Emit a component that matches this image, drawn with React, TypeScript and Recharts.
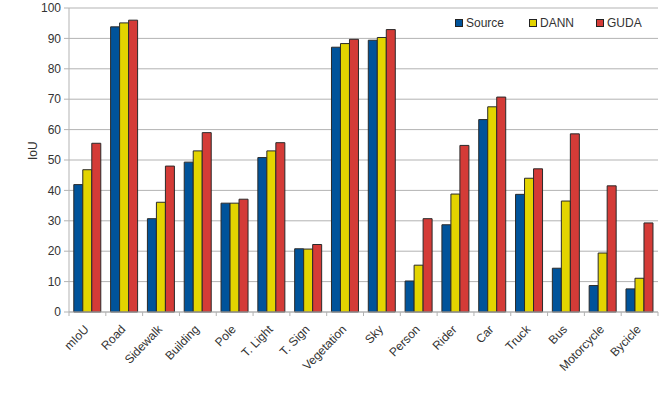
import React from 'react';
import { BarChart, Bar, XAxis, YAxis, CartesianGrid, Legend } from 'recharts';

const categories = ['mIoU', 'Road', 'Sidewalk', 'Building', 'Pole', 'T. Light', 'T. Sign', 'Vegetation', 'Sky', 'Person', 'Rider', 'Car', 'Truck', 'Bus', 'Motorcycle', 'Bycicle'];
const source = [41.9, 93.8, 30.7, 49.3, 35.8, 50.8, 20.8, 87.1, 89.4, 10.2, 28.7, 63.3, 38.7, 14.4, 8.7, 7.6];
const dann = [46.8, 95.1, 36.1, 53.0, 35.8, 53.0, 20.7, 88.3, 90.3, 15.4, 38.8, 67.5, 44.0, 36.5, 19.4, 11.1];
const guda = [55.5, 96.0, 48.0, 59.0, 37.1, 55.7, 22.2, 89.7, 92.9, 30.7, 54.8, 70.7, 47.1, 58.6, 41.5, 29.3];
const yTicks = [0, 10, 20, 30, 40, 50, 60, 70, 80, 90, 100];

const series = [
  { key: 'Source', values: source, color: '#00539a', legendLeft: 0 },
  { key: 'DANN', values: dann, color: '#e3d400', legendLeft: 74 },
  { key: 'GUDA', values: guda, color: '#d43b37', legendLeft: 141 },
];

const data = categories.map((name, i) => ({
  name,
  Source: source[i],
  DANN: dann[i],
  GUDA: guda[i],
}));

const W = 672;
const H = 393;
const margin = { top: 8, right: 14, left: 0, bottom: 0 };
const yAxisWidth = 69;
const font = '"Liberation Sans", Arial, sans-serif';
const gridColor = '#b3b3b3';

// half of one category band, used to put tick marks on the boundaries
const halfBand = (W - margin.left - margin.right - yAxisWidth) / categories.length / 2;

const CategoryTick = (props: any) => {
  const { x, y, payload, index } = props;
  const ax = x + 2;
  const ay = y + 18;
  return (
    <g>
      <line x1={x - halfBand} y1={y} x2={x - halfBand} y2={y + 4} stroke={gridColor} />
      {index === categories.length - 1 && (
        <line x1={x + halfBand} y1={y} x2={x + halfBand} y2={y + 4} stroke={gridColor} />
      )}
      <text
        x={ax}
        y={ay}
        textAnchor="end"
        fontSize={12}
        fontFamily={font}
        fill="#333"
        transform={`rotate(-46, ${ax}, ${ay})`}
      >
        {payload.value}
      </text>
    </g>
  );
};

const LegendBox = () => (
  <div style={{ position: 'relative', width: 210, height: 14, fontFamily: font, fontSize: 12, color: '#333', lineHeight: '14px' }}>
    {series.map((s) => (
      <div
        key={s.key}
        style={{ position: 'absolute', left: s.legendLeft, top: 0, display: 'flex', alignItems: 'center', whiteSpace: 'nowrap' }}
      >
        <span
          style={{
            display: 'inline-block',
            width: 6,
            height: 6,
            background: s.color,
            border: '1px solid #222',
            marginRight: 3,
          }}
        />
        <span>{s.key}</span>
      </div>
    ))}
  </div>
);

export default function App() {
  return (
    <div style={{ position: 'absolute', left: 0, top: 0, width: W, height: H, background: '#fff' }}>
      <BarChart
        width={W}
        height={H}
        data={data}
        margin={margin}
        barCategoryGap="13%"
        barGap={0}
      >
        <CartesianGrid vertical={false} stroke={gridColor} strokeWidth={1} />
        <XAxis
          dataKey="name"
          interval={0}
          height={81}
          tickLine={false}
          tickSize={0}
          tickMargin={0}
          axisLine={{ stroke: gridColor }}
          tick={<CategoryTick />}
        />
        <YAxis
          domain={[0, 100]}
          ticks={yTicks}
          width={yAxisWidth}
          axisLine={{ stroke: gridColor }}
          tickLine={{ stroke: gridColor }}
          tickSize={5}
          tickMargin={3}
          tick={{ fontSize: 12, fontFamily: font, fill: '#333' }}
          label={{ value: 'IoU', angle: -90, position: 'insideLeft', offset: 33, fontSize: 12, fontFamily: font, fill: '#333' }}
        />
        <YAxis
          yAxisId="frame"
          orientation="right"
          width={0}
          tick={false}
          tickLine={false}
          axisLine={{ stroke: gridColor }}
        />
        <Legend
          layout="horizontal"
          verticalAlign="middle"
          align="center"
          wrapperStyle={{ top: 16, left: 455, width: 210 }}
          content={<LegendBox />}
        />
        {series.map((s) => (
          <Bar
            key={s.key}
            dataKey={s.key}
            fill={s.color}
            stroke="#2a2a2a"
            strokeWidth={1}
            isAnimationActive={false}
          />
        ))}
      </BarChart>
    </div>
  );
}
